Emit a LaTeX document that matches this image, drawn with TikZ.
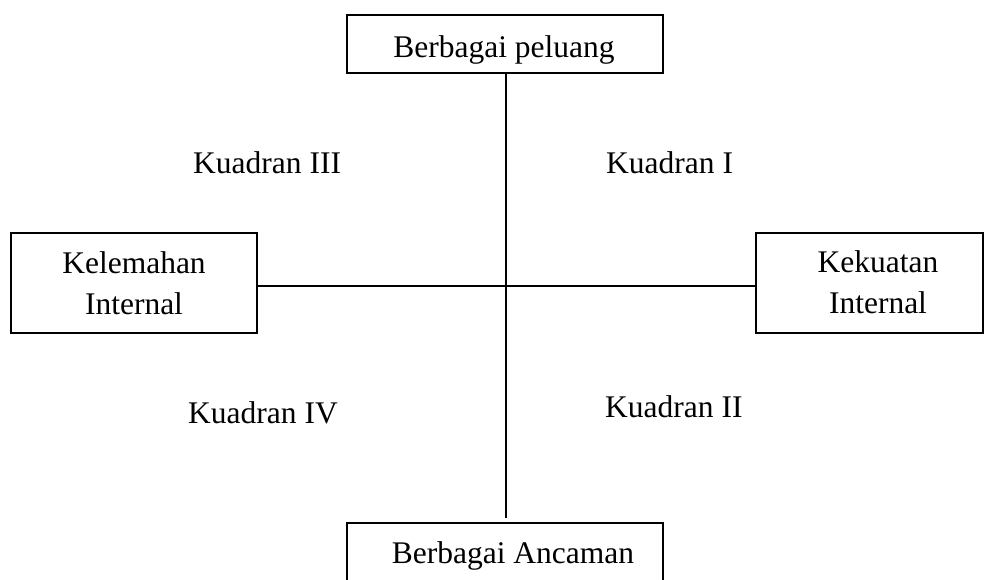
\documentclass[tikz,border=0pt]{standalone}
\usepackage{fontspec}
\setmainfont{Liberation Serif}
\begin{document}
\begin{tikzpicture}[x=1pt,y=-1pt,
  box/.style={draw=black,line width=1.2pt,minimum width=#1,inner sep=0pt,fill=none},
  lbl/.style={inner sep=0pt,font=\fontsize{31.5}{41}\selectfont,align=center},
  axis/.style={draw=black,line width=1.2pt}]
\useasboundingbox[fill=white] (0,0) rectangle (987,579);
% boxes
\node[box=316pt,minimum height=58pt] (top) at (505,44) {};
\node[box=246pt,minimum height=100pt] (left) at (134,283) {};
\node[box=227pt,minimum height=100pt] (right) at (869.5,283) {};
\node[box=316pt,minimum height=100pt] (bottom) at (505,573) {};
% box texts
\node[lbl,anchor=base] (ttop) at (504,57) {Berbagai peluang};
\node[lbl,anchor=base] (tleft) at (134,314) {Kelemahan\\Internal};
\node[lbl,anchor=base] (tright) at (878,313) {Kekuatan\\Internal};
\node[lbl,anchor=base] (tbottom) at (513,563) {Berbagai Ancaman};
% axes
\coordinate (o) at (506,286);
\draw[axis] (o |- top.south) -- ([yshift=4pt]o |- bottom.north);
\draw[axis] (left.east |- o) -- (right.west |- o);
% quadrant labels
\node[lbl,anchor=base west] (q3) at (193,173) {Kuadran III};
\node[lbl,anchor=base west] (q1) at (606,173) {Kuadran I};
\node[lbl,anchor=base west] (q4) at (188,423) {Kuadran IV};
\node[lbl,anchor=base west] (q2) at (605,417) {Kuadran II};
\end{tikzpicture}
\end{document}
